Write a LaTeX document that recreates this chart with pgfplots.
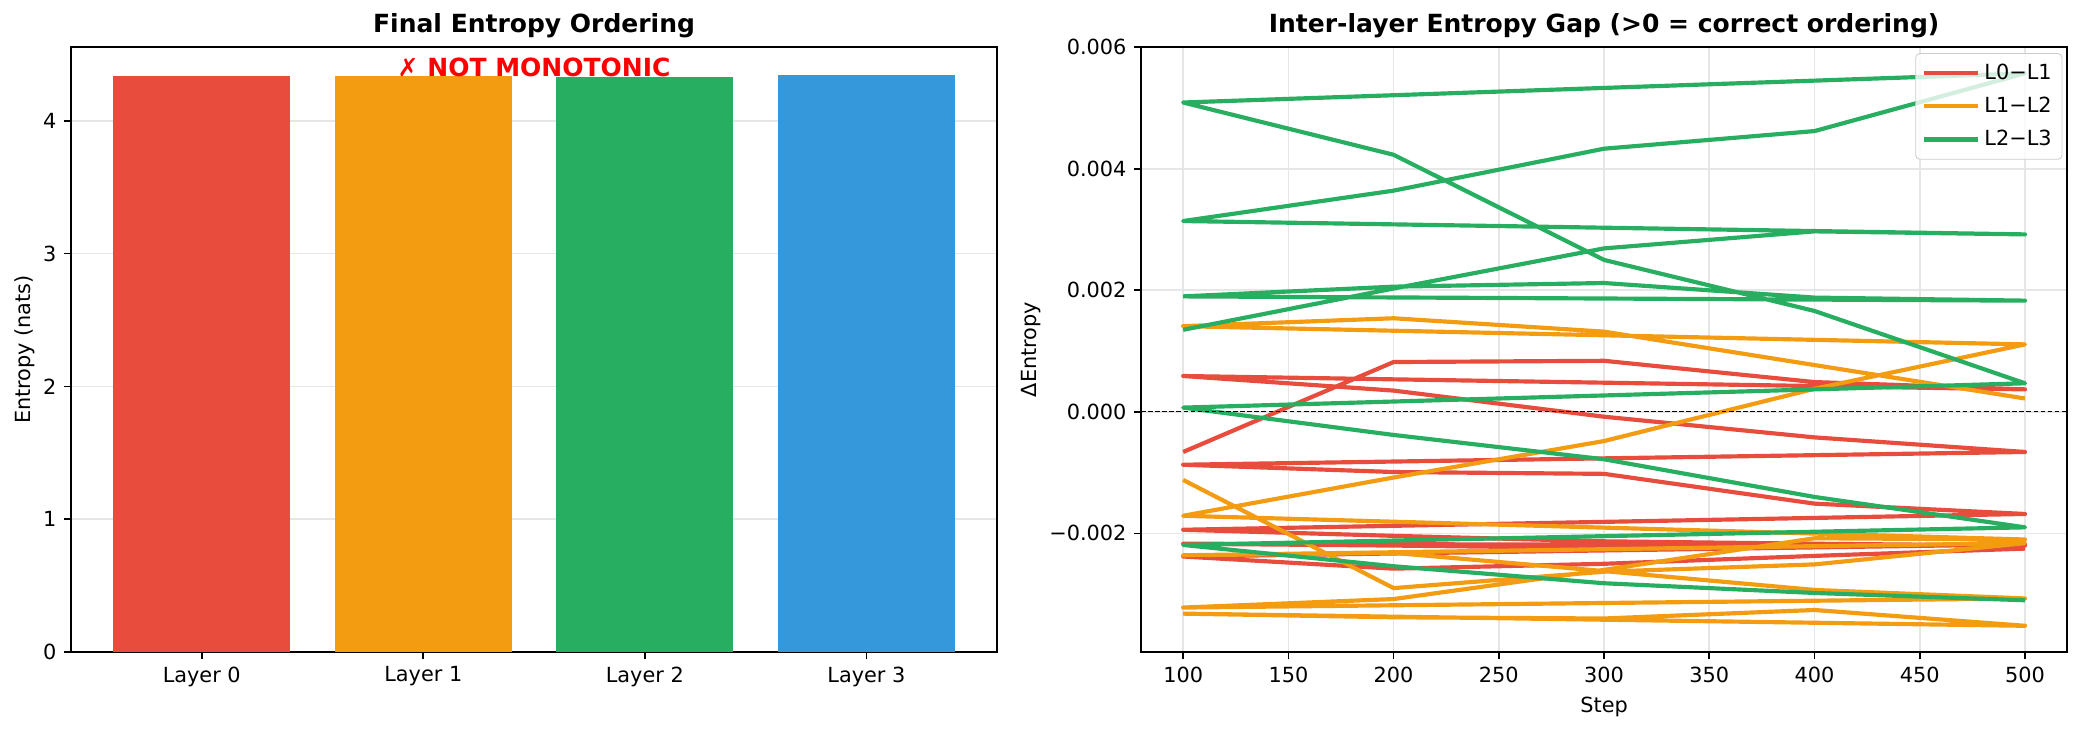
\documentclass[border=0pt]{standalone}
\usepackage{fontspec}
\setmainfont{DejaVu Sans}
\usepackage{pgfplots}
\pgfplotsset{compat=1.18}

\definecolor{cred}{HTML}{E74C3C}
\definecolor{corange}{HTML}{F39C12}
\definecolor{cgreen}{HTML}{27AE60}
\definecolor{cblue}{HTML}{3498DB}
\definecolor{gridgray}{RGB}{230,230,230}

\pgfplotsset{
  panel/.style={
    scale only axis,
    width=444.5pt, height=290.4pt,
    enlargelimits=false,
    tick pos=left,
    tick align=outside,
    major tick length=3.5pt,
    axis line style={line width=0.8pt, black},
    tick style={line width=0.8pt, black},
    grid style={line width=0.8pt, gridgray},
    /pgf/number format/assume math mode=true,
    tick label style={font=\fontsize{10}{12}\selectfont},
    label style={font=\fontsize{10}{12}\selectfont},
    ylabel shift=-3pt,
    title style={font=\bfseries\fontsize{12}{14}\selectfont, yshift=-5pt},
  },
}

\begin{document}
\begin{tikzpicture}[font=\fontsize{10}{12}\selectfont]
\useasboundingbox (0,0) rectangle (999.84pt,350.88pt);

% left panel: final entropy per layer
\begin{axis}[panel,
  at={(34.1pt,37.9pt)}, anchor=south west,
  xmin=-0.59, xmax=3.59, ymin=0, ymax=4.556,
  xtick={0,1,2,3},
  xticklabels={Layer 0,Layer 1,Layer 2,Layer 3},
  ytick={0,1,2,3,4},
  ymajorgrids,
  ylabel={Entropy (nats)},
  title={Final Entropy Ordering},
  ybar, bar width=0.8, bar shift=0pt,
]
\addplot[fill=cred, draw=none] coordinates {(0,4.335)};
\addplot[fill=corange, draw=none] coordinates {(1,4.336)};
\addplot[fill=cgreen, draw=none] coordinates {(2,4.334)};
\addplot[fill=cblue, draw=none] coordinates {(3,4.342)};
\node[text=red, font=\bfseries\fontsize{12}{14}\selectfont] at (axis cs:1.5,4.40) {✗ NOT MONOTONIC};
\end{axis}

% right panel: gaps between layers
\begin{axis}[panel,
  at={(547.7pt,37.9pt)}, anchor=south west,
  xmin=80, xmax=520, ymin=-0.003952, ymax=0.006003,
  xtick={100,150,...,500},
  ytick={-0.002,0,0.002,0.004,0.006},
  yticklabels={−0.002,0.000,0.002,0.004,0.006},
  scaled y ticks=false,
  grid=major,
  xlabel={Step}, ylabel={ΔEntropy},
  title={Inter-layer Entropy Gap (>0 = correct ordering)},
  unbounded coords=jump,
  legend cell align=left,
  legend style={at={(0.995,0.99)}, anchor=north east, draw=black!20,
    rounded corners=2pt, fill=white, fill opacity=0.8, text opacity=1,
    draw opacity=1, font=\fontsize{10}{12}\selectfont,
    inner xsep=3pt, inner ysep=3pt, row sep=3pt},
  legend image code/.code={
    \path (0pt,0pt) -- (26pt,0pt);
    \draw[#1, line width=2pt] (3pt,0pt) -- (23pt,0pt);},
]
\addplot[cred, line width=2pt, line join=round] coordinates {
  (100,-0.66e-3) (200,0.82e-3) (300,0.84e-3) (400,0.49e-3) (500,0.37e-3)
  (100,0.59e-3) (200,0.35e-3) (300,-0.08e-3) (400,-0.42e-3) (500,-0.66e-3)
  (100,-0.87e-3) (200,-0.99e-3) (300,-1.02e-3) (400,-1.51e-3) (500,-1.68e-3)
  (100,-1.94e-3) (200,-2.04e-3) (300,-2.13e-3) (400,-2.17e-3) (500,-2.20e-3)
  (100,-2.17e-3) (200,-2.20e-3) (300,-2.24e-3) (400,-2.23e-3) (500,-2.18e-3)
  (100,-2.38e-3) (200,-2.58e-3) (300,-2.50e-3) (400,-2.37e-3) (500,-2.25e-3)
};
\addlegendentry{L0−L1}
\addplot[corange, line width=2pt, line join=round] coordinates {
  (100,-1.12e-3) (200,-2.90e-3) (300,-2.63e-3) (400,-2.51e-3) (500,-2.16e-3)
  (100,-2.36e-3) (200,-2.32e-3) (300,-2.62e-3) (400,-2.93e-3) (500,-3.07e-3)
  (100,-3.22e-3) (200,-3.08e-3) (300,-2.60e-3) (400,-2.08e-3) (500,-2.10e-3)
  (100,-1.71e-3) (200,-1.08e-3) (300,-0.48e-3) (400,0.38e-3) (500,1.11e-3)
  (100,1.41e-3) (200,1.54e-3) (300,1.32e-3) (400,0.77e-3) (500,0.22e-3)
  (500,nan)
  (100,-3.32e-3) (200,-3.38e-3) (300,-3.40e-3) (400,-3.26e-3) (500,-3.52e-3)
  (100,-3.32e-3)
};
\addlegendentry{L1−L2}
\addplot[cgreen, line width=2pt, line join=round] coordinates {
  (100,1.35e-3) (200,2.03e-3) (300,2.69e-3) (400,2.97e-3) (500,2.92e-3)
  (100,3.14e-3) (200,3.64e-3) (300,4.33e-3) (400,4.62e-3) (500,5.57e-3)
  (100,5.09e-3) (200,4.23e-3) (300,2.50e-3) (400,1.66e-3) (500,0.47e-3)
  (100,0.07e-3) (200,-0.38e-3) (300,-0.78e-3) (400,-1.40e-3) (500,-1.90e-3)
  (100,-2.19e-3) (200,-2.54e-3) (300,-2.82e-3) (400,-2.98e-3) (500,-3.10e-3)
  (500,nan)
  (100,1.90e-3) (200,2.06e-3) (300,2.12e-3) (400,1.88e-3) (500,1.83e-3)
  (100,1.90e-3)
};
\addlegendentry{L2−L3}
\addplot[black, line width=0.6pt, dash pattern=on 2.2pt off 1.2pt, forget plot] coordinates {(80,0) (520,0)};
\end{axis}
\end{tikzpicture}
\end{document}
